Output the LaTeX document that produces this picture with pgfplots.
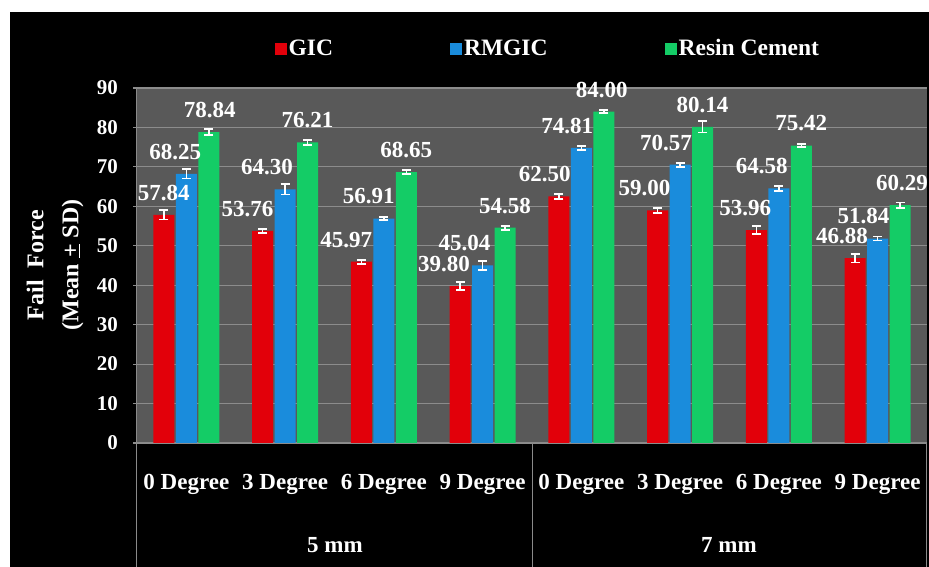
\documentclass[border=0pt]{standalone}
\usepackage{fontspec}
\setmainfont{Liberation Serif}
\usepackage{pgfplots}
\usepackage{pgfplotstable}
\pgfplotsset{compat=1.18}

\definecolor{plotgray}{HTML}{595959}
\definecolor{gridgray}{HTML}{8C8C8C}
\definecolor{linegray}{HTML}{8A8A8A}
\definecolor{barred}{HTML}{E2000A}
\definecolor{barblue}{HTML}{1A8CDC}
\definecolor{bargreen}{HTML}{14CC66}

% x = group (0-3: 5 mm, 4-7: 7 mm), y = mean, e = SD, dx = label offset
\pgfplotstableread{
x y e dx
0 57.84 1.2 0
1 53.76 0.5 -15
2 45.97 0.5 -15
3 39.80 1.1 -16
4 62.50 0.6 -14
5 59.00 0.6 -13
6 53.96 1.0 -11
7 46.88 1.1 -13
}\gic
\pgfplotstableread{
x y e dx
0 68.25 1.2 -11
1 64.30 1.3 -18
2 56.91 0.4 -15
3 45.04 1.2 -18
4 74.81 0.5 -14
5 70.57 0.5 -14
6 64.58 0.6 -17
7 51.84 0.5 -14
}\rmgic
\pgfplotstableread{
x y e dx
0 78.84 0.7 1
1 76.21 0.6 0
2 68.65 0.5 0
3 54.58 0.5 0
4 84.00 0.4 -2
5 80.14 1.4 0
6 75.42 0.4 0
7 60.29 0.7 2
}\resin

\begin{document}
\begin{tikzpicture}
\fill[white] (-137pt,-124pt) rectangle (792pt,443pt);
\fill[black] (-127pt,-124pt) rectangle (792pt,431pt);
\begin{axis}[
  at={(0pt,0pt)}, anchor=south west,
  scale only axis, width=790pt, height=355pt,
  xmin=-0.5, xmax=7.5, ymin=0, ymax=90,
  xtick={0,...,7},
  xticklabels={0 Degree,3 Degree,6 Degree,9 Degree,0 Degree,3 Degree,6 Degree,9 Degree},
  ytick={0,10,...,90},
  axis background/.style={fill=plotgray},
  axis x line*=bottom, axis y line*=left,
  axis line style={linegray, line width=1pt},
  ymajorgrids, grid style={gridgray, line width=1.2pt},
  tick align=outside, major tick length=4pt,
  ytick style={gridgray, line width=1.2pt},
  xtick style={draw=none},
  x tick label style={font=\fontsize{23}{27}\selectfont\bfseries, text=white, anchor=center, yshift=-37pt},
  y tick label style={font=\fontsize{21}{25}\selectfont\bfseries, text=white, inner sep=0pt, xshift=-15pt},
  /pgf/number format/assume math mode=true,
  ybar=1.5pt, bar width=21pt,
  clip=false,
  nodes near coords, point meta=explicit symbolic,
  every node near coord/.append style={font=\fontsize{23}{27}\selectfont\bfseries, text=white, anchor=south, inner sep=0pt, yshift=14pt},
  legend columns=3,
  legend style={at={(0.52,1.111)}, anchor=center, draw=none, fill=none, text=white,
    font=\fontsize{23.5}{28}\selectfont\bfseries,
    nodes={inner xsep=2pt},
    /tikz/every even column/.append style={column sep=115pt}},
  legend image code/.code={\fill[#1] (0pt,-6pt) rectangle (12pt,6pt);},
]
\addplot[draw=none, fill=barred,
  visualization depends on={\thisrow{dx} \as \dx},
  every node near coord/.append style={xshift=\dx pt},
  error bars/.cd, y dir=both, y explicit,
  error bar style={white, line width=1.5pt},
  error mark options={rotate=90, white, mark size=4.5pt, line width=1.8pt}]
  table[x=x, y=y, y error=e, meta=y]{\gic};
\addlegendentry{GIC}
\addplot[draw=none, fill=barblue,
  visualization depends on={\thisrow{dx} \as \dx},
  every node near coord/.append style={xshift=\dx pt},
  error bars/.cd, y dir=both, y explicit,
  error bar style={white, line width=1.5pt},
  error mark options={rotate=90, white, mark size=4.5pt, line width=1.8pt}]
  table[x=x, y=y, y error=e, meta=y]{\rmgic};
\addlegendentry{RMGIC}
\addplot[draw=none, fill=bargreen,
  visualization depends on={\thisrow{dx} \as \dx},
  every node near coord/.append style={xshift=\dx pt},
  error bars/.cd, y dir=both, y explicit,
  error bar style={white, line width=1.5pt},
  error mark options={rotate=90, white, mark size=4.5pt, line width=1.8pt}]
  table[x=x, y=y, y error=e, meta=y]{\resin};
\addlegendentry{Resin Cement}
\end{axis}
% category boxes below the axis
\draw[linegray, line width=1pt] (0pt,0pt) -- (0pt,-124pt);
\draw[linegray, line width=1pt] (395pt,0pt) -- (395pt,-124pt);
\draw[linegray, line width=1pt] (789pt,0pt) -- (789pt,-124pt);
\node[text=white, font=\fontsize{23}{27}\selectfont\bfseries] at (198pt,-102pt) {5 mm};
\node[text=white, font=\fontsize{23}{27}\selectfont\bfseries] at (592pt,-102pt) {7 mm};
\node[rotate=90, align=center, text=white, font=\fontsize{24}{35}\selectfont\bfseries]
  at (-82pt,178pt) {Fail\ \ Force\\(Mean \underline{+} SD)};
\pgfresetboundingbox
\useasboundingbox (-137pt,-124pt) rectangle (792pt,443pt);
\end{tikzpicture}
\end{document}
